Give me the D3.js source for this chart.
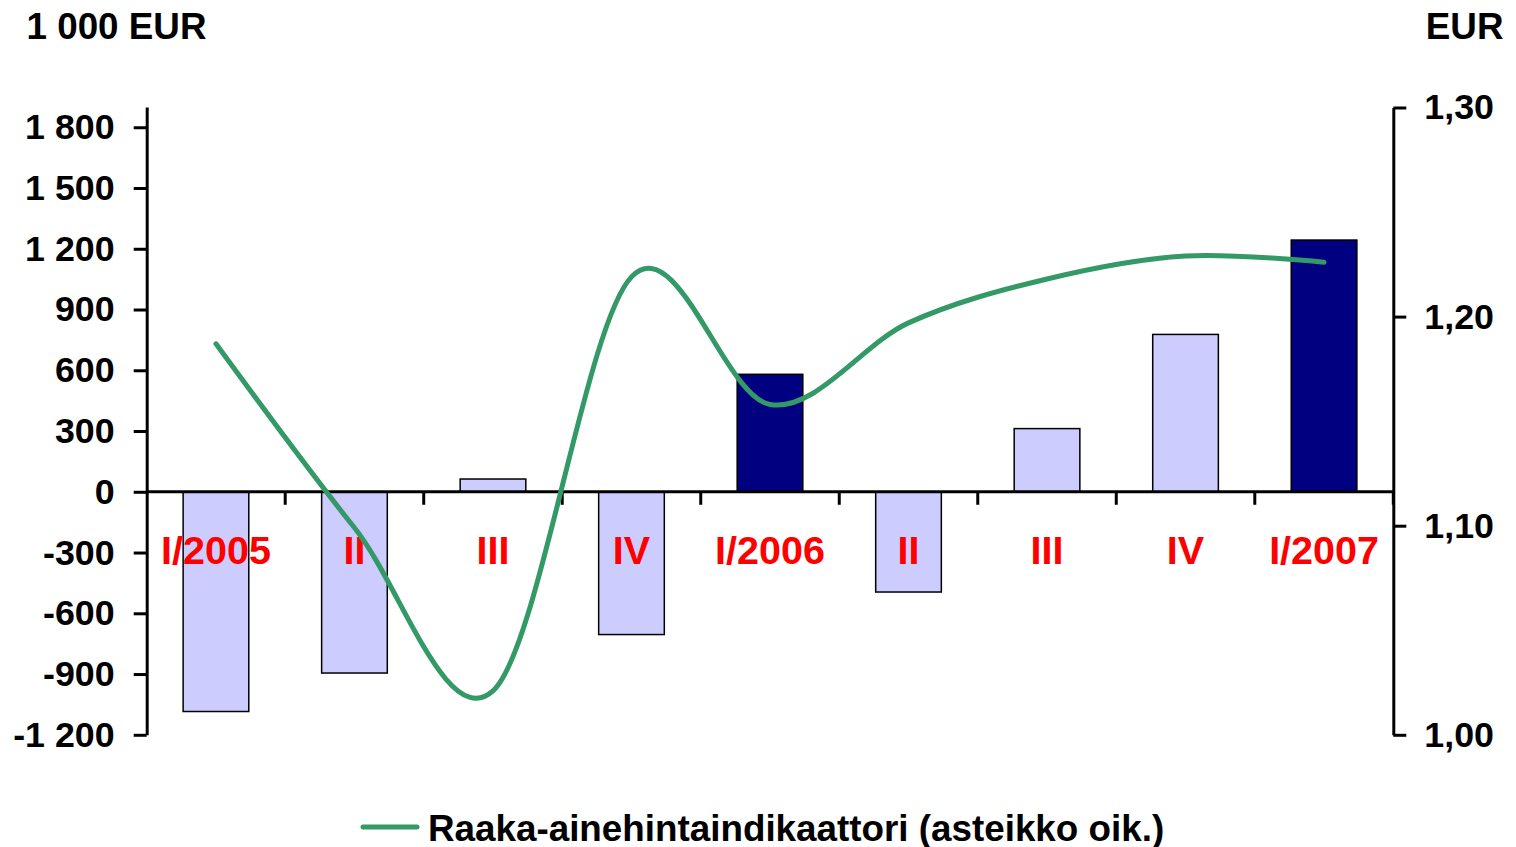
<!DOCTYPE html>
<html>
<head>
<meta charset="utf-8">
<script src="https://cdn.jsdelivr.net/npm/d3@7"></script>
<style>
  html, body { margin: 0; padding: 0; background: #fff; }
  svg { display: block; font-family: "Liberation Sans", Arial, sans-serif; font-weight: bold; }
</style>
</head>
<body>
<svg id="chart" width="1516" height="847"></svg>
<script>
// ---- data ----
const categories = ["I/2005","II/2005","III/2005","IV/2005","I/2006","II/2006","III/2006","IV/2006","I/2007"];
const categoryLabels = ["I/2005","II","III","IV","I/2006","II","III","IV","I/2007"];
const barValues = [-1085, -895, 63, -705, 580, -495, 312, 777, 1243];
const highlighted = ["I/2006", "I/2007"];
const lineValues = [1.187, 1.099, 1.021, 1.219, 1.158, 1.197, 1.218, 1.229, 1.226];
const leftTicks = [-1200, -900, -600, -300, 0, 300, 600, 900, 1200, 1500, 1800];
const rightTicks = [1.00, 1.10, 1.20, 1.30];
const leftTitle = "1 000 EUR";
const rightTitle = "EUR";
const lineName = "Raaka-ainehintaindikaattori (asteikko oik.)";

// ---- layout ----
const svg = d3.select("#chart");
const plotLeft = 146.7, plotRight = 1393.3, plotTop = 107, plotBottom = 734.8;

const x = d3.scaleBand().domain(categories).range([plotLeft, plotRight])
  .paddingInner(0.526).paddingOuter(0.263);
const yL = d3.scaleLinear().domain([-1200, 1900]).range([plotBottom, plotTop]);
const yR = d3.scaleLinear().domain([1.0, 1.3]).range([plotBottom, plotTop + 0.5]);

const fmtL = d => d3.format(",")(d).replace(/,/g, " ").replace("\u2212", "-");
const fmtR = d => d3.format(".2f")(d).replace(".", ",");

// bars
svg.append("g").selectAll("rect").data(categories).join("rect")
  .attr("x", d => x(d))
  .attr("width", x.bandwidth())
  .attr("y", (d, i) => yL(Math.max(0, barValues[i])))
  .attr("height", (d, i) => Math.abs(yL(barValues[i]) - yL(0)))
  .attr("fill", d => highlighted.includes(d) ? "#000080" : "#CCCCFF")
  .attr("stroke", "#000")
  .attr("stroke-width", 1.5);

// category labels
svg.append("g").selectAll("text").data(categories).join("text")
  .attr("x", d => x(d) + x.bandwidth() / 2)
  .attr("y", 563.5)
  .attr("text-anchor", "middle")
  .attr("fill", "#FF0000")
  .style("font-size", "39.5px")
  .text((d, i) => categoryLabels[i]);

// left axis
const axL = svg.append("g").attr("transform", `translate(${plotLeft},0)`)
  .call(d3.axisLeft(yL).tickValues(leftTicks).tickSize(13).tickSizeOuter(0).tickPadding(19).tickFormat(fmtL));
axL.select(".domain").attr("stroke", "#000").attr("stroke-width", 3);
axL.selectAll(".tick line").attr("stroke", "#000").attr("stroke-width", 3);
axL.selectAll(".tick text").attr("fill", "#000").style("font-size", "35.8px")
  .style("font-family", "'Liberation Sans', Arial, sans-serif").style("font-weight", "bold");

// right axis
const axR = svg.append("g").attr("transform", `translate(${plotRight},0)`)
  .call(d3.axisRight(yR).tickValues(rightTicks).tickSize(13).tickSizeOuter(0).tickPadding(18).tickFormat(fmtR));
axR.select(".domain").attr("stroke", "#000").attr("stroke-width", 3);
axR.selectAll(".tick line").attr("stroke", "#000").attr("stroke-width", 3);
axR.selectAll(".tick text").attr("fill", "#000").style("font-size", "35.8px")
  .style("font-family", "'Liberation Sans', Arial, sans-serif").style("font-weight", "bold");

// zero line with category boundary ticks
const y0 = yL(0);
svg.append("line").attr("x1", plotLeft).attr("x2", plotRight).attr("y1", y0).attr("y2", y0)
  .attr("stroke", "#000").attr("stroke-width", 3);
const bounds = categories.map(d => x(d) + x.bandwidth() / 2 + x.step() / 2);
svg.append("g").selectAll("line").data(bounds).join("line")
  .attr("x1", d => d).attr("x2", d => d)
  .attr("y1", y0).attr("y2", y0 + 13)
  .attr("stroke", "#000").attr("stroke-width", 3);

// line series
const line = d3.line()
  .x((d, i) => x(categories[i]) + x.bandwidth() / 2)
  .y(d => yR(d))
  .curve(d3.curveCatmullRom.alpha(0));
svg.append("path").datum(lineValues)
  .attr("d", line)
  .attr("fill", "none")
  .attr("stroke", "#339966")
  .attr("stroke-width", 5)
  .attr("stroke-linecap", "round")
  .attr("stroke-linejoin", "round");

// titles
svg.append("text").attr("x", 26.5).attr("y", 38.5).style("font-size", "36.8px").text(leftTitle);
svg.append("text").attr("x", 1503.5).attr("y", 38.5).attr("text-anchor", "end").style("font-size", "36.8px").text(rightTitle);

// legend
svg.append("line").attr("x1", 363).attr("x2", 417).attr("y1", 827).attr("y2", 827)
  .attr("stroke", "#339966").attr("stroke-width", 5).attr("stroke-linecap", "round");
svg.append("text").attr("x", 428).attr("y", 840.5).style("font-size", "36.8px").text(lineName);
</script>
</body>
</html>
